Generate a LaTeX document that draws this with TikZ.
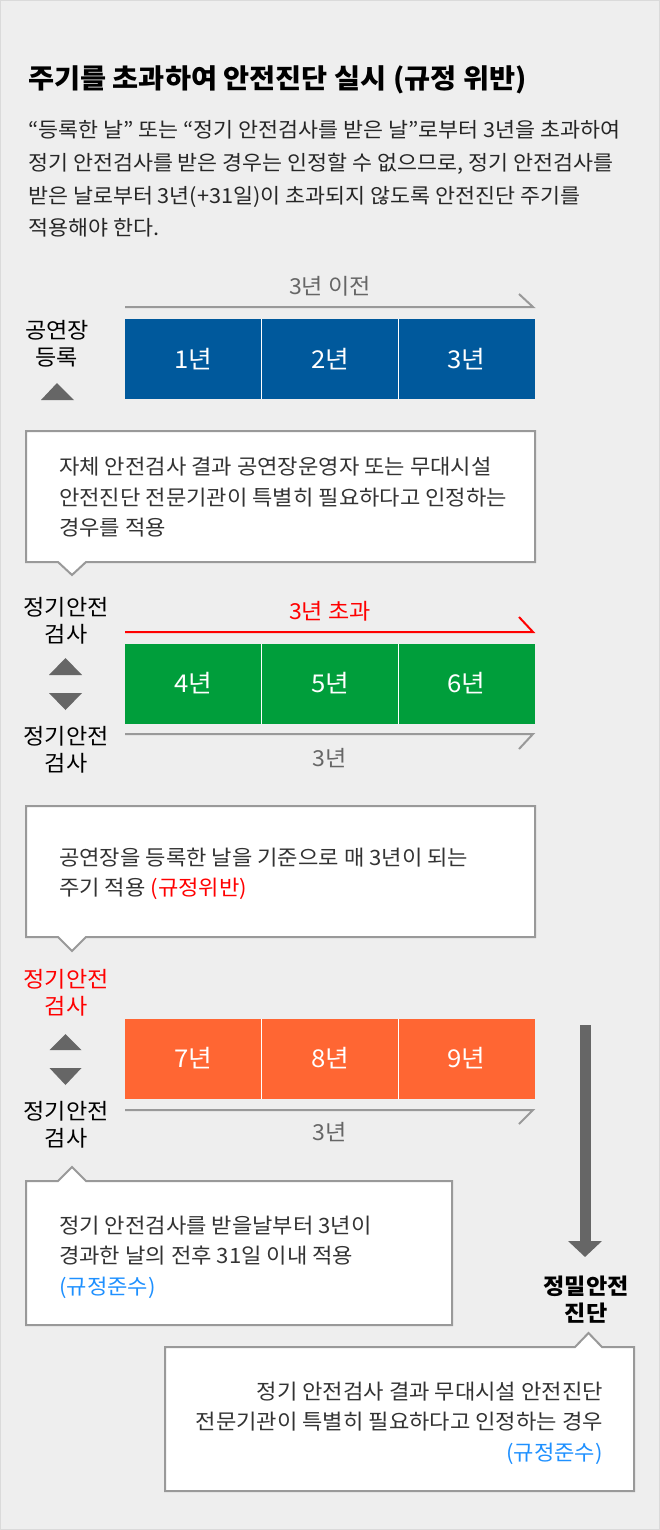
\documentclass[tikz,border=0pt]{standalone}
\usepackage{fontspec}
\setmainfont{Noto Sans CJK KR}[FakeStretch=1.05]
\usetikzlibrary{positioning,arrows.meta}
\definecolor{bg}{HTML}{EEEEEE}
\definecolor{edge}{HTML}{DADADA}
\definecolor{regblue}{HTML}{00599C}
\definecolor{reggreen}{HTML}{009E3B}
\definecolor{regorange}{HTML}{FF6633}
\definecolor{linegray}{HTML}{999999}
\definecolor{textgray}{HTML}{666666}
\definecolor{darktext}{HTML}{333333}
\definecolor{okblue}{HTML}{1E90FF}
\definecolor{badred}{HTML}{FF0000}

\begin{document}
\begin{tikzpicture}[x=1pt, y=-1pt,
    year/.style={rectangle, minimum width=136.67pt, minimum height=80pt, inner sep=0pt, outer sep=0pt,
      text=white, font={\fontsize{24.5}{24.5}\selectfont}},
    side/.style={align=center, inner sep=0pt, font={\fontsize{22}{27}\selectfont}},
    span/.style={linegray, line width=2pt},
    spantext/.style={inner sep=0pt, text=textgray, font={\fontsize{22}{24}\selectfont}},
    note/.style={draw=linegray, fill=white, line width=2pt},
    notetext/.style={text=darktext, inner sep=0pt, font={\fontsize{21.1}{30.5}\selectfont}},
    tri/.style={fill=textgray}]
    \fill[bg] (0,0) rectangle (660,1530);
    \draw[edge, line width=1pt] (0.5,0.5) rectangle (659.5,1529.5);
    \useasboundingbox (0,0) rectangle (660,1530);

    \node[anchor=west, inner sep=0pt, font={\fontsize{27}{30}\selectfont\bfseries}] (title) at (28,80)
        {주기를 초과하여 안전진단 실시 (규정 위반)};
    \node[anchor=west, align=left, inner sep=0pt, text=black!85, font={\fontsize{20.7}{32.7}\selectfont}] (intro) at (28,179)
        {“등록한 날” 또는 “정기 안전검사를 받은 날”로부터 3년을 초과하여\\
         정기 안전검사를 받은 경우는 인정할 수 없으므로, 정기 안전검사를\\
         받은 날로부터 3년(+31일)이 초과되지 않도록 안전진단 주기를\\
         적용해야 한다.};

    % first three years
    \node[year, fill=regblue] (y1) at (193.3,359) {1년};
    \node[year, fill=regblue] (y2) [right=0pt of y1] {2년};
    \node[year, fill=regblue] (y3) [right=0pt of y2] {3년};
    \node[side] (reg) at (57,344) {공연장\\등록};
    \fill[tri] (41,400) -- (74,400) -- (57,383) -- cycle;
    \coordinate (s1a) at (125,307);
    \coordinate (s1b) at (533,307);
    \draw[span] (s1a) -- (s1b) -- ++(-14,-13);
    \node[spantext] (t1) at (330,286) {3년 이전};

    \draw[note] (26,431) -- (535,431) -- (535,562) -- (86,562) -- (72,575) -- (58,562) -- (26,562) -- cycle;
    \node[notetext, anchor=west, align=left] (n1) at (59,497.5)
        {자체 안전검사 결과 공연장운영자 또는 무대시설\\
         안전진단 전문기관이 특별히 필요하다고 인정하는\\
         경우를 적용};

    % next three years
    \node[year, fill=reggreen] (y4) at (193.3,683.5) {4년};
    \node[year, fill=reggreen] (y5) [right=0pt of y4] {5년};
    \node[year, fill=reggreen] (y6) [right=0pt of y5] {6년};
    \node[side] (chk1) at (66,621) {정기안전\\검사};
    \node[side] (chk2) at (66,750) {정기안전\\검사};
    \fill[tri] (49,675) -- (82,675) -- (65.5,658) -- cycle;
    \fill[tri] (49,693) -- (82,693) -- (65.5,710) -- cycle;
    \coordinate (s2a) at (125,632);
    \coordinate (s2b) at (533,632);
    \draw[badred, line width=2pt] (s2a) -- (s2b) -- ++(-14,-15);
    \node[spantext, text=badred] (t2) at (330,611) {3년 초과};
    \coordinate (s3a) at (125,734);
    \coordinate (s3b) at (533,734);
    \draw[span] (s3a) -- (s3b) -- ++(-14,15);
    \node[spantext] (t3) at (330,758) {3년};

    \draw[note] (26,806) -- (535,806) -- (535,937) -- (86,937) -- (72,951) -- (58,937) -- (26,937) -- cycle;
    \node[notetext, anchor=west, align=left] (n2) at (59,874)
        {공연장을 등록한 날을 기준으로 매 3년이 되는\\
         주기 적용 \textcolor{badred}{(규정위반)}};

    % last three years
    \node[year, fill=regorange] (y7) at (193.3,1058.5) {7년};
    \node[year, fill=regorange] (y8) [right=0pt of y7] {8년};
    \node[year, fill=regorange] (y9) [right=0pt of y8] {9년};
    \node[side, text=badred] (chk3) at (66,993) {정기안전\\검사};
    \node[side] (chk4) at (66,1125) {정기안전\\검사};
    \fill[tri] (49.5,1050) -- (81.5,1050) -- (65.5,1034) -- cycle;
    \fill[tri] (49.5,1068) -- (81.5,1068) -- (65.5,1085) -- cycle;
    \coordinate (s4a) at (125,1110);
    \coordinate (s4b) at (533,1110);
    \draw[span] (s4a) -- (s4b) -- ++(-14,14);
    \node[spantext] (t4) at (330,1132) {3년};

    \foreach \a/\b in {y1/y2, y2/y3, y4/y5, y5/y6, y7/y8, y8/y9}
        \draw[white, line width=1.5pt] (\a.north east) -- (\a.south east);

    \draw[note] (26,1181) -- (58,1181) -- (72,1167) -- (86,1181) -- (452,1181) -- (452,1325) -- (26,1325) -- cycle;
    \node[notetext, anchor=west, align=left] (n3) at (59,1257)
        {정기 안전검사를 받을날부터 3년이\\
         경과한 날의 전후 31일 이내 적용\\
         \textcolor{okblue}{(규정준수)}};

    % precise diagnosis
    \coordinate (dtop) at (585,1025);
    \coordinate (dtip) at (585,1257);
    \draw[textgray, line width=11pt, -{Triangle[width=33pt, length=16pt]}] (dtop) -- (dtip);
    \node[side, font={\fontsize{22}{27}\selectfont\bfseries}] (jd) at (586,1300) {정밀안전\\진단};

    \draw[note] (165,1347) -- (575,1347) -- (588.5,1333) -- (602,1347) -- (634,1347) -- (634,1491) -- (165,1491) -- cycle;
    \node[notetext, anchor=east, align=right] (n4) at (603,1423)
        {정기 안전검사 결과 무대시설 안전진단\\
         전문기관이 특별히 필요하다고 인정하는 경우\\
         \textcolor{okblue}{(규정준수)}};
\end{tikzpicture}
\end{document}
